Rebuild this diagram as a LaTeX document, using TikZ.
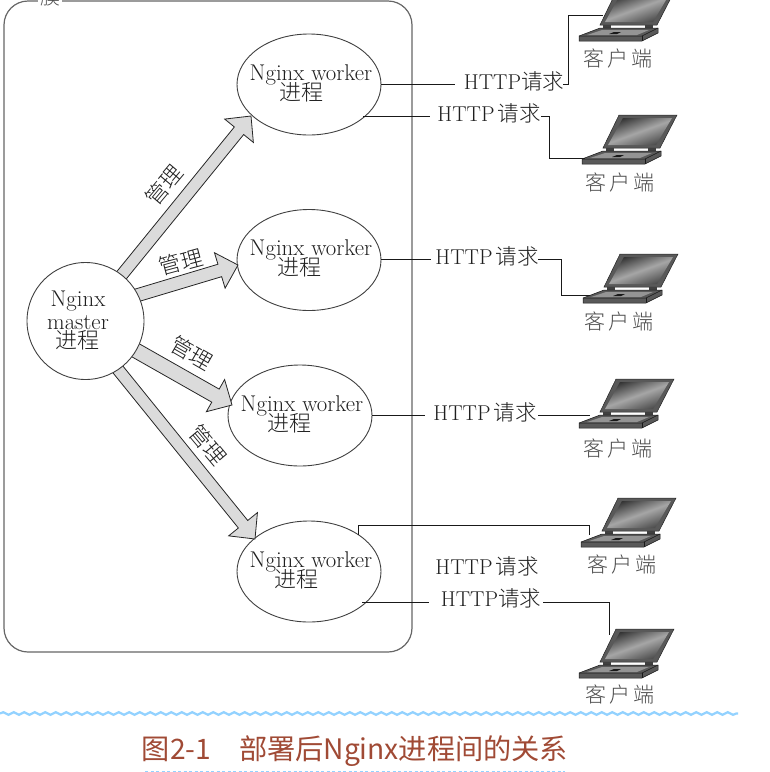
\documentclass[tikz,border=0pt]{standalone}
\usepackage{fontspec}
\usetikzlibrary{calc,shapes.geometric,decorations.pathmorphing}
\newfontfamily\cjk{Noto Sans CJK SC Light}
\newfontfamily\cjkcap{Noto Sans CJK SC}
\definecolor{ink}{gray}{0.12}
\definecolor{capred}{HTML}{A04A35}
\definecolor{wavey}{HTML}{93D2FF}
\newcommand\CJ[1]{{\cjk #1}}
\newcommand\fatarrow[4]{% tail, tip, half shaft width, name
  \coordinate (#4c) at ($(#2)!19pt!(#1)$);
  \filldraw[fatstyle]
    ($(#1)!#3!-90:(#2)$) -- ($(#4c)!#3!-90:(#2)$) -- ($(#4c)!18.5pt!-90:(#2)$) -- (#2)
    -- ($(#4c)!18.5pt!90:(#2)$) -- ($(#4c)!#3!90:(#2)$) -- ($(#1)!#3!90:(#2)$) -- cycle;
}
\tikzset{
  fatstyle/.style={draw=black!85,fill=black!14,line width=0.8pt,line join=miter},
  proc/.style={ellipse,draw=black!75,line width=0.9pt,minimum width=144pt,minimum height=101pt,inner sep=0pt},
  mastercircle/.style={circle,draw=black!75,fill=white,line width=0.9pt,minimum size=117pt,inner sep=0pt},
  latin/.style={text=ink,inner sep=0pt,yshift=-1.5pt,font=\fontsize{22.8}{23}\selectfont},
  han/.style={text=ink,inner sep=0pt,font=\fontsize{22}{22}\selectfont\cjk},
  req/.style={text=ink,inner sep=0pt,font=\fontsize{21.5}{22}\selectfont},
  clientlabel/.style={text=black!70,inner sep=0pt,font=\fontsize{21}{21}\selectfont\cjk},
  wire/.style={draw=black!90,line width=0.85pt},
  frame/.style={draw=black!60,line width=1.2pt,rounded corners=24pt},
  laptop/.pic={
    \filldraw[draw=black!85,fill=black!65,line width=0.5pt] (37,-49) -- (95,-49) -- (78,-16) -- (21,-16) -- cycle;
    \path[left color=black!80,right color=black!72,middle color=black!35,shading angle=20] (41,-46) -- (90,-46) -- (74,-19) -- (26,-19) -- cycle;
    \fill[black!75] (24,-16) rectangle (32,-13);
    \fill[black!75] (66,-16) rectangle (74,-13);
    \filldraw[draw=black!90,fill=black!65,line width=0.5pt] (0,-5) -- (21,-13) -- (79,-13) -- (79,-8) -- (63,0) -- (0,0) -- cycle;
    \fill[black!42] (8,-6) -- (23,-11) -- (70,-11) -- (58,-6) -- cycle;
    \fill[black!90] (30,-7) -- (35,-9) -- (42,-9) -- (38,-7) -- cycle;
    \draw[black!90,line width=0.5pt] (0,-5) -- (63,-5) -- (79,-13);
    \draw[black!90,line width=0.5pt] (63,-5) -- (63,0);
  }
}
\begin{document}
\begin{tikzpicture}[x=1pt,y=-1pt]
\clip (0,0) rectangle (770,772);
% frame
\draw[frame] (4,1) rectangle (412,652);
\node[fill=white,inner xsep=2pt,inner ysep=0pt,text=black!70,font=\fontsize{20}{20}\selectfont\cjk] (framelabel) at (50,-3) {膜};
% worker ellipses
\node[proc] (w1) at (309,84.5) {};
\node[proc] (w2) at (309,260) {};
\node[proc] (w3) at (300,415.5) {};
\node[proc] (w4) at (309,571.5) {};
% arrows
\coordinate (a1) at (112,287); \coordinate (b1) at (251,116);
\coordinate (a2) at (128,298); \coordinate (b2) at (238,265);
\coordinate (a3) at (128,346); \coordinate (b3) at (232,405);
\coordinate (a4) at (109.5,359); \coordinate (b4) at (255,539);
\fatarrow{a1}{b1}{6pt}{h1}
\fatarrow{a2}{b2}{6.5pt}{h2}
\fatarrow{a3}{b3}{7.5pt}{h3}
\fatarrow{a4}{b4}{6pt}{h4}
\node[mastercircle] (master) at (85.5,321) {};
% texts in circles
\node[latin] (mt1) at (78,300) {Nginx};
\node[latin] (mt2) at (78,321) {master};
\node[han] (mt3) at (77,340) {进程};
\node[latin] (w1a) at (311,73) {Nginx worker};
\node[han] (w1b) at (301,92) {进程};
\node[latin] (w2a) at (311,248) {Nginx worker};
\node[han] (w2b) at (299,267) {进程};
\node[latin] (w3a) at (302,404) {Nginx worker};
\node[han] (w3b) at (289,423) {进程};
\node[latin] (w4a) at (311,560) {Nginx worker};
\node[han] (w4b) at (296,579) {进程};
% manage labels
\node[han,rotate=50] (g1) at (164,185) {管理};
\node[han,rotate=15] (g2) at (181,262) {管理};
\node[han,rotate=-30] (g3) at (192,353) {管理};
\node[han,rotate=-50] (g4) at (208,445) {管理};
% request labels
\node[req] (r1) at (514,81) {HTTP\CJ{请求}};
\node[req] (r2) at (489,113) {HTTP\hspace{3pt}\CJ{请求}};
\node[req] (r3) at (487,256) {HTTP\hspace{3pt}\CJ{请求}};
\node[req] (r4) at (485,412) {HTTP\hspace{3pt}\CJ{请求}};
\node[req] (r5) at (487,566) {HTTP\hspace{3pt}\CJ{请求}};
\node[req] (r6) at (491,598) {HTTP\CJ{请求}};
% laptops
\pic (l1) at (579,41) {laptop};
\pic (l2) at (582,164) {laptop};
\pic (l3) at (583,303) {laptop};
\pic (l4) at (579,428) {laptop};
\pic (l5) at (581,547) {laptop};
\pic (l6) at (579,678) {laptop};
% client labels
\node[clientlabel] (c1) at (618,58) {客\hspace{3pt}户\hspace{3pt}端};
\node[clientlabel] (c2) at (620,182) {客\hspace{3pt}户\hspace{3pt}端};
\node[clientlabel] (c3) at (619,321) {客\hspace{3pt}户\hspace{3pt}端};
\node[clientlabel] (c4) at (618,448) {客\hspace{3pt}户\hspace{3pt}端};
\node[clientlabel] (c5) at (622,564) {客\hspace{3pt}户\hspace{3pt}端};
\node[clientlabel] (c6) at (620,694) {客\hspace{3pt}户\hspace{3pt}端};
% connector endpoints
\coordinate (s1) at (381,84);
\coordinate (i1) at (455,84);
\coordinate (o1) at (563,84);
\coordinate (e1) at (603,15);
\coordinate (s2) at (363,116);
\coordinate (i2) at (430,116);
\coordinate (o2) at (541,116);
\coordinate (e2) at (585,158);
\coordinate (s3) at (381,259);
\coordinate (i3) at (431,259);
\coordinate (o3) at (538,259);
\coordinate (e3) at (590,295);
\coordinate (s4) at (372,415);
\coordinate (i4) at (425,415);
\coordinate (o4) at (538,415);
\coordinate (e4) at (590,415);
\coordinate (s5) at (358,535);
\coordinate (e5) at (589,535);
\coordinate (s6) at (362,602);
\coordinate (i6) at (429,602);
\coordinate (o6) at (543,602);
\coordinate (e6) at (609,635);
\draw[wire] (s1) -- (i1);
\draw[wire] (o1) -- (568,84) -- (568,15) -- (e1);
\draw[wire] (s2) -- (i2);
\draw[wire] (o2) -- (549,116) -- (549,158) -- (e2);
\draw[wire] (s3) -- (i3);
\draw[wire] (o3) -- (561,259) -- (561,295) -- (e3);
\draw[wire] (s4) -- (i4);
\draw[wire] (o4) -- (e4);
\draw[wire] (s5) -- (358,525) -- (589,525) -- (e5);
\draw[wire] (s6) -- (i6);
\draw[wire] (o6) -- (609,602) -- (e6);
% wave rule and caption
\draw[wavey,line width=2.2pt,decorate,decoration={snake,segment length=10.5pt,amplitude=1.3pt}] (0,713.5) -- (738,713.5);
\node[text=capred,inner sep=0pt,font=\fontsize{28.2}{28}\selectfont\cjkcap] (caption) at (355,751) {图2-1\hspace{28pt}部署后Nginx进程间的关系};
\draw[wavey,line width=1.5pt,dash pattern=on 3pt off 2.5pt] (145,771.5) -- (565,771.5);
\end{tikzpicture}
\end{document}
